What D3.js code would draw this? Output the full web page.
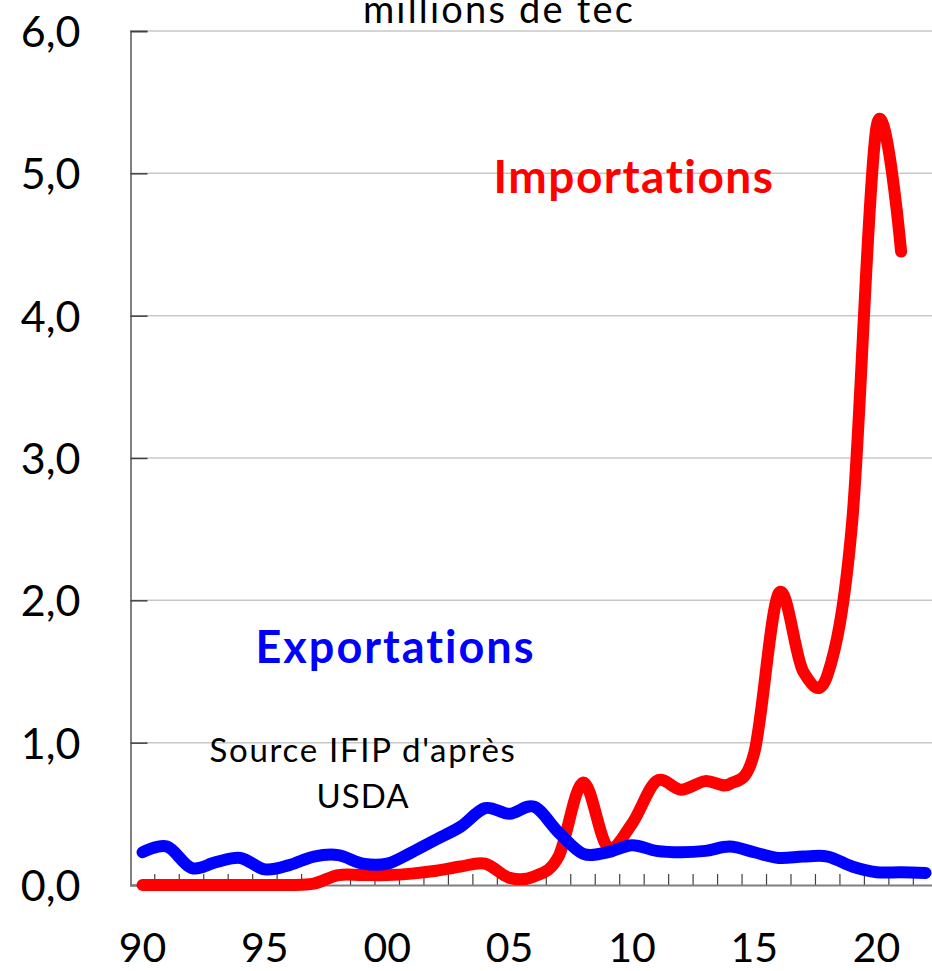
<!DOCTYPE html>
<html>
<head>
<meta charset="utf-8">
<script src="https://d3js.org/d3.v7.min.js"></script>
<style>
  body { margin: 0; background: #fff; }
  svg { display: block; }
  text { font-family: Lato, "Open Sans", sans-serif; }
</style>
</head>
<body>
<script>
// years on the category axis
var years = [1990, 1991, 1992, 1993, 1994, 1995, 1996, 1997, 1998, 1999,
             2000, 2001, 2002, 2003, 2004, 2005, 2006, 2007, 2008, 2009,
             2010, 2011, 2012, 2013, 2014, 2015, 2016, 2017, 2018, 2019,
             2020, 2021, 2022];

// importations, millions de tec (1990 - 2021)
var importations = [0, 0, 0, 0, 0, 0, 0, 0.01, 0.07, 0.07,
                    0.07, 0.08, 0.10, 0.13, 0.15, 0.05, 0.06, 0.20, 0.72, 0.27,
                    0.43, 0.73, 0.67, 0.73, 0.71, 0.93, 2.05, 1.50, 1.48, 2.55,
                    5.33, 4.45];

// exportations, millions de tec (1990 - 2022)
var exportations = [0.23, 0.27, 0.12, 0.16, 0.19, 0.11, 0.14, 0.20, 0.21, 0.15,
                    0.15, 0.23, 0.32, 0.41, 0.54, 0.50, 0.55, 0.37, 0.22, 0.23,
                    0.28, 0.24, 0.23, 0.24, 0.27, 0.23, 0.19, 0.20, 0.20, 0.13,
                    0.09, 0.09, 0.085];

var yTicks = [0, 1, 2, 3, 4, 5, 6];
var xLabelYears = [1990, 1995, 2000, 2005, 2010, 2015, 2020];

var width = 932, height = 971;

var svg = d3.select("body")
            .append("svg")
            .attr("width", width)
            .attr("height", height);

// scales
var xScale = d3.scaleBand()
               .domain(years)
               .range([130.3, 130.3 + 33 * 24.47])
               .padding(0);
var yScale = d3.scaleLinear()
               .domain([0, 6])
               .range([885, 31]);

function xc(yr) { return xScale(yr) + xScale.bandwidth() / 2; }

// gridlines
svg.append("g")
   .attr("class", "grid")
   .selectAll("line")
   .data(yTicks.filter(function(d) { return d > 0; }))
   .enter().append("line")
   .attr("x1", 130)
   .attr("x2", width)
   .attr("y1", function(d) { return yScale(d); })
   .attr("y2", function(d) { return yScale(d); })
   .style("stroke", "#c8c8c8")
   .style("stroke-width", 1.5);

// y axis, ticks on the inside
var yAxis = d3.axisRight(yScale)
              .tickValues(yTicks)
              .tickSize(17)
              .tickFormat(function(d) { return d3.format(".1f")(d).replace(".", ","); });

var gy = svg.append("g")
            .attr("class", "y axis")
            .attr("transform", "translate(130.5,0)")
            .call(yAxis);
gy.select(".domain").style("stroke", "#7f7f7f").style("stroke-width", 2);
gy.selectAll(".tick line").style("stroke", "#404040").style("stroke-width", 1.5);
gy.selectAll(".tick text")
  .attr("x", -50)
  .attr("dy", "0.36em")
  .style("text-anchor", "end")
  .style("font-size", "43px")
  .style("fill", "#000");

// x axis: tick marks between the categories
var boundaries = years.map(function(d) { return xScale(d); });
boundaries.push(xScale(2022) + xScale.bandwidth());

svg.append("g")
   .attr("class", "x ticks")
   .selectAll("line")
   .data(boundaries.slice(1))
   .enter().append("line")
   .attr("x1", function(d) { return d; })
   .attr("x2", function(d) { return d; })
   .attr("y1", 885)
   .attr("y2", 874)
   .style("stroke", "#404040")
   .style("stroke-width", 1.2);

svg.append("line")
   .attr("x1", 130)
   .attr("x2", width)
   .attr("y1", 885.5)
   .attr("y2", 885.5)
   .style("stroke", "#7f7f7f")
   .style("stroke-width", 2);

// year labels (two digits)
svg.append("g")
   .attr("class", "x labels")
   .selectAll("text")
   .data(xLabelYears)
   .enter().append("text")
   .attr("x", function(d) { return xc(d); })
   .attr("y", 962)
   .style("text-anchor", "middle")
   .style("font-size", "41px")
   .text(function(d) { return String(d).slice(2); });

// smoothed lines
var line = d3.line()
             .x(function(d) { return xc(d.year); })
             .y(function(d) { return yScale(d.value); })
             .curve(d3.curveCatmullRom.alpha(0));

var impData = importations.map(function(v, i) { return {year: years[i], value: v}; });
var expData = exportations.map(function(v, i) { return {year: years[i], value: v}; });

svg.append("path")
   .datum(impData)
   .attr("class", "importations")
   .attr("d", line)
   .style("fill", "none")
   .style("stroke", "#ff0000")
   .style("stroke-width", 12)
   .style("stroke-linecap", "round")
   .style("stroke-linejoin", "round");

svg.append("path")
   .datum(expData)
   .attr("class", "exportations")
   .attr("d", line)
   .style("fill", "none")
   .style("stroke", "#0000ff")
   .style("stroke-width", 12)
   .style("stroke-linecap", "round")
   .style("stroke-linejoin", "round");

// labels
svg.append("text")
   .attr("x", 499)
   .attr("y", 23)
   .style("text-anchor", "middle")
   .style("font-size", "38px")
   .style("letter-spacing", "2.2px")
   .text("millions de tec");

svg.append("text")
   .attr("x", 634)
   .attr("y", 193)
   .style("text-anchor", "middle")
   .style("font-size", "46px")
   .style("letter-spacing", "1.5px")
   .style("font-weight", "bold")
   .style("fill", "#ff0000")
   .text("Importations");

svg.append("text")
   .attr("x", 395.5)
   .attr("y", 663)
   .style("text-anchor", "middle")
   .style("font-size", "45px")
   .style("letter-spacing", "2px")
   .style("font-weight", "bold")
   .style("fill", "#0000ff")
   .text("Exportations");

svg.append("text")
   .attr("x", 363)
   .attr("y", 761.5)
   .style("text-anchor", "middle")
   .style("font-size", "33px")
   .style("letter-spacing", "1.7px")
   .text("Source IFIP d'après");

svg.append("text")
   .attr("x", 363)
   .attr("y", 808)
   .style("text-anchor", "middle")
   .style("font-size", "33px")
   .style("letter-spacing", "1px")
   .text("USDA");
</script>
</body>
</html>
